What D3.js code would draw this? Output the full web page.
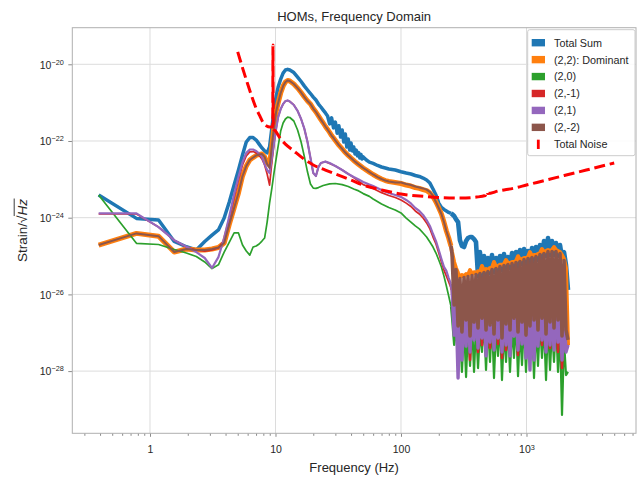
<!DOCTYPE html>
<html>
<head>
<meta charset="utf-8">
<script src="https://cdn.jsdelivr.net/npm/d3@7"></script>
<style>
body { margin: 0; background: #fff; }
text { font-family: "Liberation Sans", Arial, sans-serif; fill: #262626; }
</style>
</head>
<body>
<div id="chart"></div>
<script>
// ---- data (frequency in Hz, strain / sqrt(Hz)) ----

// smooth part of each mode, up to 250 Hz
var totalSum = [[0.39,3.9e-24],[0.78,9.6e-25],[1.17,8.7e-25],[1.56,2.4e-25],[1.95,1.75e-25],[2.34,1.44e-25],[2.73,2.4e-25],[3.12,3.5e-25],[3.51,4.8e-25],[3.9,9.8e-25],[4.29,2.6e-24],[4.68,7.1e-24],[5.07,1.75e-23],[5.46,4.3e-23],[5.85,9.4e-23],[6.24,1.23e-22],[6.63,1.23e-22],[7.02,1.06e-22],[7.41,8.3e-23],[7.8,6.6e-23],[8.19,5.5e-23],[8.58,4.9e-23],[8.97,7.0e-23],[9.36,2.18e-22],[9.75,6.4e-22],[10.14,1.49e-21],[10.5,2.56e-21],[11,4.1e-21],[11.5,5.9e-21],[12,7.1e-21],[12.5,7.4e-21],[13,7.1e-21],[14,6.1e-21],[15,4.65e-21],[16,3.55e-21],[17,2.7e-21],[18,2.14e-21],[19,1.73e-21],[20,1.4e-21],[21,1.17e-21],[22,9.2e-22],[23,7.7e-22],[24,6.4e-22],[25,5.4e-22],[26,4.5e-22],[27,2.8e-22],[28,4.0e-22],[29,2.2e-22],[30,3.1e-22],[31,1.6e-22],[32,2.5e-22],[33,1.27e-22],[34,1.94e-22],[35,9.4e-23],[36,1.52e-22],[37,7.0e-23],[38,1.13e-22],[39,5.8e-23],[40,8.9e-23],[41,5.5e-23],[42,7.0e-23],[43,4.6e-23],[44,5.8e-23],[45,4.1e-23],[46,5.0e-23],[47,3.6e-23],[48,4.45e-23],[49,3.4e-23],[50,3.85e-23],[53,3.2e-23],[56,2.8e-23],[60,2.6e-23],[65,2.3e-23],[70,2.1e-23],[75,1.98e-23],[80,1.86e-23],[85,1.8e-23],[90,1.75e-23],[100,1.58e-23],[110,1.46e-23],[120,1.38e-23],[130,1.26e-23],[140,1.19e-23],[150,1.08e-23],[160,9.6e-24],[170,8.0e-24],[180,5.6e-24],[190,3.9e-24],[200,2.4e-24],[210,1.85e-24],[220,1.64e-24],[230,1.5e-24],[240,1.37e-24],[250,1.29e-24]];

var mode22 = [[0.39,1.94e-25],[0.78,3.9e-25],[1.17,3.3e-25],[1.56,1.27e-25],[1.95,1.53e-25],[2.34,1.44e-25],[2.73,1.44e-25],[3.12,1.53e-25],[3.51,1.67e-25],[3.9,2.18e-25],[4.29,6.8e-25],[4.68,1.79e-24],[5.07,4.4e-24],[5.46,1.22e-23],[5.85,2.23e-23],[6.24,3.2e-23],[6.63,3.7e-23],[7.02,4.2e-23],[7.41,4.45e-23],[7.8,4.6e-23],[8.19,3.85e-23],[8.58,2.67e-23],[8.97,2.37e-23],[9.36,7.7e-23],[9.75,2.46e-22],[10.14,6.06e-22],[10.5,9.8e-22],[11,1.78e-21],[11.5,2.7e-21],[12,3.45e-21],[12.5,3.8e-21],[13,3.67e-21],[14,3.07e-21],[15,2.4e-21],[16,1.84e-21],[17,1.4e-21],[18,1.1e-21],[19,9.2e-22],[20,7.0e-22],[21,5.7e-22],[22,4.5e-22],[23,3.6e-22],[24,2.95e-22],[25,2.39e-22],[26,2.0e-22],[27,1.67e-22],[28,1.39e-22],[29,1.2e-22],[30,1.03e-22],[32,7.8e-23],[34,6.2e-23],[36,5.0e-23],[38,4.2e-23],[40,3.6e-23],[43,2.9e-23],[46,2.43e-23],[50,1.98e-23],[53,1.75e-23],[56,1.55e-23],[60,1.34e-23],[65,1.15e-23],[70,1.02e-23],[75,9.3e-24],[80,8.8e-24],[90,8.3e-24],[100,7.8e-24],[110,7.1e-24],[120,6.7e-24],[130,6.1e-24],[140,5.8e-24],[150,5.4e-24],[160,5.1e-24],[170,4.4e-24],[180,3.5e-24],[190,2.57e-24],[200,1.79e-24],[210,1.25e-24],[220,7.7e-25],[230,4.5e-25],[240,2.95e-25],[250,1.83e-25]];

var mode20 = [[0.39,3.9e-24],[0.78,2.15e-25],[1.17,2.0e-25],[1.56,1.48e-25],[1.95,1.2e-25],[2.34,9.7e-26],[2.73,7.0e-26],[3.12,4.7e-26],[3.51,5.9e-26],[3.9,1.27e-25],[4.29,2.32e-25],[4.68,4.0e-25],[5.07,4.0e-25],[5.46,1.94e-25],[5.85,1.35e-25],[6.24,1.06e-25],[6.63,1.72e-25],[7.02,1.83e-25],[7.41,2.06e-25],[7.8,2.46e-25],[8.19,2.95e-25],[8.58,7.7e-25],[8.97,2.4e-24],[9.36,5.9e-24],[9.75,1.55e-23],[10.14,3.6e-23],[10.5,7.4e-23],[11,1.82e-22],[11.5,2.95e-22],[12,3.75e-22],[12.5,4.2e-22],[13,4.1e-22],[14,3.32e-22],[15,1.94e-22],[16,9.4e-23],[17,3.85e-23],[18,1.55e-23],[19,7.6e-24],[20,5.9e-24],[21,5.8e-24],[22,6.1e-24],[24,6.9e-24],[27,7.6e-24],[30,7.8e-24],[34,7.3e-24],[38,6.5e-24],[42,5.6e-24],[46,5.0e-24],[50,4.25e-24],[56,3.6e-24],[60,3.07e-24],[70,2.28e-24],[80,1.85e-24],[90,1.59e-24],[100,1.33e-24],[110,9.8e-25],[120,7.7e-25],[130,6.1e-25],[140,5.1e-25],[150,4.0e-25],[160,3.13e-25],[170,2.32e-25],[180,1.72e-25],[190,1.2e-25],[200,7.9e-26],[210,5.2e-26],[220,3.0e-26],[230,1.65e-26],[240,9.1e-27],[250,4.95e-27]];

var mode2m1 = [[0.39,1.25e-24],[0.78,1.25e-24],[1.17,5.7e-25],[1.56,2.6e-25],[1.95,1.72e-25],[2.34,1.44e-25],[2.73,1.35e-25],[3.12,1.44e-25],[3.51,1.62e-25],[3.9,2.6e-25],[4.29,9.2e-25],[4.68,3.25e-24],[5.07,9.6e-24],[5.46,2.37e-23],[5.85,4.1e-23],[6.24,5.2e-23],[6.63,5.3e-23],[7.02,4.9e-23],[7.41,4.2e-23],[7.8,3.4e-23],[8.19,2.37e-23],[8.58,1.38e-23],[8.97,7.1e-24],[9.36,2.8e-23],[9.75,8.9e-23],[10.14,2.18e-22],[10.5,4.2e-22],[11,6.8e-22],[11.5,9.2e-22],[12,1.1e-21],[12.5,1.14e-21],[13,1.07e-21],[14,8.7e-22],[15,6.1e-22],[16,3.75e-22],[17,2.06e-22],[18,9.4e-23],[19,3.6e-23],[20,1.46e-23],[21,1.22e-23],[22,2.1e-23],[23,2.67e-23],[25,2.9e-23],[30,2.23e-23],[34,1.75e-23],[42,1.12e-23],[50,7.3e-24],[60,5.8e-24],[70,4.5e-24],[80,3.8e-24],[90,3.35e-24],[100,2.9e-24],[110,2.4e-24],[120,1.96e-24],[130,1.5e-24],[140,1.25e-24],[150,9.8e-25],[160,7.3e-25],[170,5.1e-25],[180,3.13e-25],[190,2.06e-25],[200,1.2e-25],[210,7.0e-26],[220,4.3e-26],[230,3.0e-26],[240,2.1e-26],[250,1.47e-26]];

var mode21 = [[0.39,1.3e-24],[0.78,1.3e-24],[1.17,5.7e-25],[1.56,2.6e-25],[1.95,1.75e-25],[2.34,1.27e-25],[2.73,8.9e-26],[3.12,4.9e-26],[3.51,9.4e-26],[3.9,2.95e-25],[4.29,1.11e-24],[4.68,4.1e-24],[5.07,1.15e-23],[5.46,2.8e-23],[5.85,4.9e-23],[6.24,6.0e-23],[6.63,6.0e-23],[7.02,5.5e-23],[7.41,4.7e-23],[7.8,3.85e-23],[8.19,2.5e-23],[8.58,1.75e-23],[8.97,1.46e-23],[9.36,3.6e-23],[9.75,9.4e-23],[10.14,2.18e-22],[10.5,4.2e-22],[11,6.8e-22],[11.5,9.2e-22],[12,1.1e-21],[12.5,1.14e-21],[13,1.07e-21],[14,8.7e-22],[15,6.1e-22],[16,3.75e-22],[17,2.06e-22],[18,9.4e-23],[19,3.6e-23],[20,1.46e-23],[21,1.22e-23],[22,2.1e-23],[23,2.67e-23],[24,2.8e-23],[25,2.9e-23],[27,2.67e-23],[30,2.23e-23],[34,1.75e-23],[38,1.38e-23],[42,1.15e-23],[46,9.9e-24],[50,8.5e-24],[56,7.3e-24],[60,6.7e-24],[70,5.3e-24],[80,4.4e-24],[90,3.9e-24],[100,3.5e-24],[110,2.9e-24],[120,2.35e-24],[130,1.79e-24],[140,1.5e-24],[150,1.18e-24],[160,8.7e-25],[170,6.1e-25],[180,3.75e-25],[190,2.46e-25],[200,1.44e-25],[210,8.4e-26],[220,5.2e-26],[230,4.1e-26],[240,2.67e-26],[250,1.87e-26]];

var mode2m2 = [[0.39,1.94e-25],[0.78,3.9e-25],[1.17,3.3e-25],[1.56,1.27e-25],[1.95,1.53e-25],[2.34,1.44e-25],[2.73,1.44e-25],[3.12,1.53e-25],[3.51,1.67e-25],[3.9,2.18e-25],[4.29,6.8e-25],[4.68,1.79e-24],[5.07,4.4e-24],[5.46,1.22e-23],[5.85,2.23e-23],[6.24,3.2e-23],[6.63,3.7e-23],[7.02,4.2e-23],[7.41,4.45e-23],[7.8,4.6e-23],[8.19,3.85e-23],[8.58,2.5e-23],[8.97,1.98e-23],[9.36,7.7e-23],[9.75,2.46e-22],[10.14,6.06e-22],[10.5,9.8e-22],[11,1.78e-21],[11.5,2.7e-21],[12,3.45e-21],[12.5,3.8e-21],[13,3.67e-21],[14,3.07e-21],[15,2.4e-21],[16,1.84e-21],[17,1.4e-21],[18,1.1e-21],[19,9.2e-22],[20,7.0e-22],[21,5.7e-22],[22,4.5e-22],[23,3.6e-22],[24,2.95e-22],[25,2.39e-22],[26,2.0e-22],[27,1.67e-22],[28,1.39e-22],[29,1.2e-22],[30,1.03e-22],[32,7.8e-23],[34,6.2e-23],[36,5.0e-23],[38,4.2e-23],[40,3.6e-23],[43,2.9e-23],[46,2.43e-23],[50,1.98e-23],[53,1.75e-23],[56,1.55e-23],[60,1.34e-23],[65,1.15e-23],[70,1.02e-23],[75,9.3e-24],[80,8.8e-24],[90,8.3e-24],[100,8.3e-24],[110,7.6e-24],[120,7.1e-24],[130,6.5e-24],[140,6.1e-24],[150,5.8e-24],[160,5.4e-24],[170,4.7e-24],[180,3.7e-24],[190,2.57e-24],[200,1.79e-24],[210,1.25e-24],[220,7.7e-25],[230,4.5e-25],[240,2.95e-25],[250,1.83e-25]];

// noisy band 255 Hz - 2.1 kHz, all modes sampled on the same frequencies
var hfFreqs = [255,265,274,285,295,306,318,330,342,355,368,382,396,411,426,442,459,476,493,512,531,551,572,593,615,638,662,687,712,739,767,795,825,856,888,921,956,991,1028,1066,1106,1148,1190,1235,1281,1329,1379,1431,1484,1540,1597,1657,1719,1783,1850,1919,1990,2064,2142];

var totalSumHF = [1.25e-24,1.11e-24,9.2e-25,7.7e-25,2.6e-25,1.83e-25,1.72e-25,2.46e-25,2.95e-25,3.13e-25,
  3.13e-25,2.77e-25,2.32e-25,3.0e-26,1.27e-25,3.0e-26,1.0e-25,3.4e-26,8.9e-26,3.6e-26,
  1.06e-25,3.8e-26,8.9e-26,4.1e-26,1.0e-25,4.3e-26,1.13e-25,4.6e-26,9.45e-26,4.9e-26,
  1.2e-25,5.2e-26,1.27e-25,5.5e-26,1.44e-25,6.2e-26,1.53e-25,6.6e-26,1.35e-25,7.0e-26,
  1.62e-25,7.4e-26,1.72e-25,7.9e-26,1.94e-25,8.9e-26,2.46e-25,1.0e-25,2.95e-25,1.06e-25,
  2.46e-25,1.06e-25,2.18e-25,1.0e-25,1.94e-25,8.9e-26,1.27e-25,5.9e-26,1.3e-26];

var mode22HF = [1.27e-25,7.0e-26,4.9e-26,3.6e-26,2.8e-26,3.2e-26,3.0e-26,3.4e-26,3.2e-26,4.3e-26,
  3.4e-26,3.8e-26,3.6e-26,4.0e-26,3.8e-26,5.5e-26,4.0e-26,4.6e-26,4.3e-26,4.9e-26,
  4.9e-26,7.0e-26,5.2e-26,5.5e-26,5.9e-26,5.9e-26,6.2e-26,7.9e-26,6.6e-26,6.6e-26,
  7.0e-26,7.0e-26,7.4e-26,9.9e-26,7.9e-26,8.4e-26,8.9e-26,8.9e-26,9.4e-26,1.27e-25,
  1.0e-25,1.06e-25,1.06e-25,1.13e-25,1.2e-25,1.53e-25,1.27e-25,1.35e-25,1.44e-25,1.35e-25,
  1.44e-25,1.72e-25,1.44e-25,1.35e-25,1.27e-25,1.06e-25,8.4e-26,4.9e-26,4.8e-28];

var mode20HF = [2.4e-27,4.8e-28,1.6e-27,1.44e-28,1.18e-27,9.5e-29,1.6e-27,7.0e-29,1.33e-27,1.36e-28,
  1.9e-27,9.5e-29,1.6e-27,1.2e-28,1.18e-27,3.15e-28,1.9e-27,1.07e-28,1.6e-27,1.73e-28,
  2.15e-27,6.6e-29,1.33e-27,2.5e-28,1.9e-27,5.85e-29,1.18e-27,1.73e-28,1.6e-27,9.5e-29,
  1.6e-27,2.2e-28,2.15e-27,7.4e-29,1.33e-27,1.44e-28,1.9e-27,9.5e-29,1.6e-27,1.95e-28,
  2.15e-27,6.6e-29,1.5e-27,1.36e-28,1.9e-27,2.2e-28,1.6e-27,5.85e-29,1.9e-27,1.07e-28,
  1.33e-27,1.73e-28,2.15e-27,9.5e-29,1.18e-27,7.2e-30,6.5e-28,7.9e-29,9.5e-29];

var mode2m1HF = [1.3e-26,1.18e-27,6.8e-27,1.95e-28,5.9e-27,3.15e-28,5.3e-27,5.7e-28,5.3e-27,1.95e-28,
  5.9e-27,8.7e-28,5.3e-27,3.15e-28,5.3e-27,4.8e-28,6.3e-27,3.15e-28,5.3e-27,4.0e-28,
  5.3e-27,4.5e-28,6.3e-27,5.1e-28,5.3e-27,2.2e-28,5.9e-27,3.55e-28,6.8e-27,3.15e-28,
  5.3e-27,1.05e-27,6.3e-27,2.65e-28,5.3e-27,6.5e-28,6.8e-27,3.15e-28,5.3e-27,1.95e-28,
  6.3e-27,3.15e-28,5.3e-27,6.5e-28,6.3e-27,4.8e-28,5.3e-27,3.55e-28,6.8e-27,4.0e-28,
  5.3e-27,4.8e-28,6.3e-27,3.15e-28,5.3e-27,1.2e-28,3.9e-27,3.55e-28,4.8e-28];

var mode21HF = [1.47e-26,8.7e-28,6.8e-27,6.6e-29,5.9e-27,1.95e-28,6.8e-27,4.5e-28,5.9e-27,3.15e-28,
  6.8e-27,6.5e-28,6.3e-27,4.0e-28,5.3e-27,7.3e-28,6.8e-27,2.5e-28,6.3e-27,5.7e-28,
  6.8e-27,3.55e-28,6.3e-27,7.3e-28,6.8e-27,3.15e-28,5.3e-27,4.8e-28,6.8e-27,2.5e-28,
  6.3e-27,8.2e-28,6.8e-27,3.55e-28,5.9e-27,5.1e-28,6.8e-27,2.2e-28,6.3e-27,1.07e-28,
  6.8e-27,1.95e-28,6.3e-27,4.5e-28,6.8e-27,6.5e-28,5.9e-27,3.15e-28,6.8e-27,4.8e-28,
  6.3e-27,3.55e-28,6.8e-27,5.7e-28,5.3e-27,1.95e-28,3.9e-27,3.15e-28,4.8e-28];

var mode2m2HF = [1.17e-25,5.3e-27,4.45e-26,1.5e-27,2.6e-26,1.05e-27,2.75e-26,2.15e-27,2.9e-26,8.2e-28,
  3.1e-26,1.9e-27,3.3e-26,1.33e-27,3.5e-26,2.4e-27,3.7e-26,1.18e-27,3.95e-26,1.6e-27,
  4.45e-26,9.3e-28,4.7e-26,2.15e-27,5.35e-26,7.3e-28,5.65e-26,1.69e-27,6.0e-26,1.18e-27,
  6.4e-26,2.4e-27,6.8e-26,1.05e-27,7.2e-26,1.9e-27,8.1e-26,8.7e-28,8.6e-26,1.5e-27,
  9.1e-26,2.15e-27,9.7e-26,1.18e-27,1.1e-25,2.4e-27,1.17e-25,9.3e-28,1.31e-25,1.9e-27,
  1.31e-25,1.33e-27,1.31e-25,2.15e-27,1.17e-25,8.2e-28,7.6e-26,1.18e-27,6.5e-28];

var totalNoise = [[5,2.1e-20],[5.5,7.5e-21],[6,3.07e-21],[6.5,1.4e-21],[7,7.25e-22],[7.5,4.5e-22],[8,2.95e-22],[8.5,2.46e-22],[9,2.32e-22],[9.5,2.32e-22],[9.55,3.2e-20],[9.6,2.1e-22],[10,1.82e-22],[11,1.13e-22],[12,8.3e-23],[14,5.5e-23],[16,3.85e-23],[20,2.37e-23],[25,1.75e-23],[30,1.38e-23],[40,9.6e-24],[50,7.1e-24],[70,5.3e-24],[100,4.15e-24],[150,3.6e-24],[200,3.35e-24],[300,3.25e-24],[400,3.45e-24],[470,3.8e-24],[485,4.8e-24],[490,4.25e-24],[600,5.0e-24],[800,5.9e-24],[1000,7.1e-24],[1500,9.9e-24],[2000,1.26e-23],[3000,1.75e-23],[4000,2.23e-23],[5000,2.67e-23]];

var legendLabels = ["Total Sum", "(2,2): Dominant", "(2,0)", "(2,-1)", "(2,1)", "(2,-2)", "Total Noise"];
var xTicks = [1, 10, 100, 1000];
var xTickBase = ["1", "10", "100", "10"];
var xTickExp = ["", "", "", "3"];
var yTicks = [1e-28, 1e-26, 1e-24, 1e-22, 1e-20];
var yTickExp = ["\u221228", "\u221226", "\u221224", "\u221222", "\u221220"];

// ---- layout ----
var canvas_width = 637, canvas_height = 481;
var margin = {top: 27.7, right: 1, bottom: 47.7, left: 72.3};
var width = canvas_width - margin.left - margin.right;
var height = canvas_height - margin.top - margin.bottom;

var spineColor = "#b0b0b0", gridColor = "#dcdcdc", tickColor = "#8a8a8a";

var svg = d3.select("#chart").append("svg")
    .attr("width", canvas_width)
    .attr("height", canvas_height);

var g = svg.append("g")
    .attr("transform", "translate(" + margin.left + "," + margin.top + ")");

var xScale = d3.scaleLog().domain([0.2404, 7458]).range([0, width]);
var yScale = d3.scaleLog().domain([2.39e-30, 9.0e-20]).range([height, 0]);

// grid
g.selectAll(".xgrid").data(xTicks).enter().append("line")
    .attr("x1", d => xScale(d)).attr("x2", d => xScale(d))
    .attr("y1", 0).attr("y2", height)
    .attr("stroke", gridColor).attr("stroke-width", 1);
g.selectAll(".ygrid").data(yTicks).enter().append("line")
    .attr("x1", 0).attr("x2", width)
    .attr("y1", d => yScale(d)).attr("y2", d => yScale(d))
    .attr("stroke", gridColor).attr("stroke-width", 1);

// axes
var minorTicks = xScale.ticks().filter(d => xTicks.indexOf(d) < 0);
var xMinor = g.append("g")
    .attr("transform", "translate(0," + height + ")")
    .call(d3.axisBottom(xScale).tickValues(minorTicks).tickSize(2.5).tickSizeOuter(0).tickFormat(""));
xMinor.select(".domain").remove();
xMinor.selectAll(".tick line").attr("stroke", tickColor);

var xAxis = g.append("g")
    .attr("transform", "translate(0," + height + ")")
    .attr("font-family", null).attr("font-size", null)
    .call(d3.axisBottom(xScale).tickValues(xTicks).tickSize(3.5).tickSizeOuter(0).tickFormat(""));
xAxis.select(".domain").remove();
xAxis.selectAll(".tick line").attr("stroke", tickColor);
xAxis.selectAll(".tick text").each(function (d, i) {
    var t = d3.select(this).attr("y", 20).attr("dy", null)
        .attr("fill", "#262626").style("font-size", "10.5px");
    t.append("tspan").text(xTickBase[i]);
    if (xTickExp[i]) t.append("tspan").attr("dy", "-0.5em").style("font-size", "7.3px").text(xTickExp[i]);
});

var yAxis = g.append("g")
    .attr("font-family", null).attr("font-size", null)
    .call(d3.axisLeft(yScale).tickValues(yTicks).tickSize(4).tickSizeOuter(0).tickFormat(""));
yAxis.select(".domain").remove();
yAxis.selectAll(".tick line").attr("stroke", tickColor);
yAxis.selectAll(".tick text").each(function (d, i) {
    var t = d3.select(this).attr("x", -8.5).attr("dy", "0.36em")
        .attr("fill", "#262626").style("font-size", "10.5px");
    t.append("tspan").text("10");
    t.append("tspan").attr("dy", "-0.55em").style("font-size", "7.3px").text(yTickExp[i]);
});

// frame
g.append("rect")
    .attr("x", 0).attr("y", 0).attr("width", width).attr("height", height)
    .attr("fill", "none").attr("stroke", spineColor).attr("stroke-width", 1);

// lines
g.append("clipPath").attr("id", "plot-clip")
    .append("rect").attr("width", width).attr("height", height);

var line = d3.line()
    .x(d => xScale(d[0]))
    .y(d => yScale(d[1]));

function bandPoints(smooth, band) {
    return [smooth[smooth.length - 1]].concat(hfFreqs.map((f, i) => [f, band[i]]));
}

// w: width of the smooth trace, wb: width in the dense noisy band (dense data reads as a filled area)
var series = [
    {key: "Total Sum", smooth: totalSum, band: totalSumHF, color: "#1f77b4", w: 3.5, wb: 4.6},
    {key: "(2,2): Dominant", smooth: mode22, band: mode22HF, color: "#ff7f0e", w: 5, wb: 4},
    {key: "(2,0)", smooth: mode20, band: mode20HF, color: "#2ca02c", w: 1.7, wb: 2.2},
    {key: "(2,-1)", smooth: mode2m1, band: mode2m1HF, color: "#d62728", w: 1.7, wb: 2.6},
    {key: "(2,1)", smooth: mode21, band: mode21HF, color: "#9467bd", w: 2.2, wb: 3.4},
    {key: "(2,-2)", smooth: mode2m2, band: mode2m2HF, color: "#8c564b", w: 2, wb: 3.6}
];

var plot = g.append("g").attr("clip-path", "url(#plot-clip)");

var modes = plot.selectAll(".mode")
    .data(series)
    .enter()
    .append("g")
    .attr("fill", "none")
    .attr("stroke", d => d.color)
    .attr("stroke-linejoin", "round");

modes.append("path")
    .attr("stroke-width", d => d.wb)
    .attr("d", d => line(bandPoints(d.smooth, d.band)));

modes.append("path")
    .attr("stroke-width", d => d.w)
    .attr("d", d => line(d.smooth));

plot.append("path")
    .attr("fill", "none")
    .attr("stroke", "#ff0000")
    .attr("stroke-width", 3)
    .attr("stroke-dasharray", "11,4.8")
    .attr("d", d3.line().x(d => xScale(d[0])).y(d => yScale(d[1])).curve(d3.curveMonotoneX)(totalNoise));

// title and labels
svg.append("text")
    .attr("x", margin.left + width / 2).attr("y", 20.5)
    .attr("text-anchor", "middle")
    .style("font-size", "13px")
    .text("HOMs, Frequency Domain");

svg.append("text")
    .attr("x", margin.left + width / 2).attr("y", 471.5)
    .attr("text-anchor", "middle")
    .style("font-size", "13px")
    .text("Frequency (Hz)");

var ylab = svg.append("g").attr("transform", "translate(26.5," + (margin.top + height / 2) + ") rotate(-90)");
var ytext = ylab.append("text").attr("text-anchor", "middle").style("font-size", "13.5px");
ytext.append("tspan").text("Strain/");
ytext.append("tspan").text("\u221A");
ytext.append("tspan").style("font-style", "italic").text("Hz");
var yNode = ytext.node();
var nChars = yNode.getNumberOfChars();
var barStart = yNode.getEndPositionOfChar(7);
var barEnd = yNode.getEndPositionOfChar(nChars - 1);
ylab.append("line")
    .attr("x1", barStart.x - 0.5).attr("x2", barEnd.x + 0.5)
    .attr("y1", -12.3).attr("y2", -12.3)
    .attr("stroke", "#262626").attr("stroke-width", 0.9);

// legend
var legendColors = ["#1f77b4", "#ff7f0e", "#2ca02c", "#d62728", "#9467bd", "#8c564b", "#ff0000"];
var legend = svg.append("g").attr("transform", "translate(527.7,29.7)");
legend.append("rect")
    .attr("width", 107.3).attr("height", 126).attr("rx", 2)
    .attr("fill", "#fff").attr("fill-opacity", 0.85)
    .attr("stroke", "#cccccc").attr("stroke-width", 1);

var rows = legend.selectAll(".row")
    .data(legendLabels)
    .enter()
    .append("g")
    .attr("transform", (d, i) => "translate(0," + (13 + i * 16.93) + ")");

rows.append("rect")
    .attr("x", d => d === "Total Noise" ? 9.2 : 4)
    .attr("y", d => d === "Total Noise" ? -4.6 : -3.7)
    .attr("width", d => d === "Total Noise" ? 2.8 : 13.3)
    .attr("height", d => d === "Total Noise" ? 9.3 : 7.4)
    .attr("fill", (d, i) => legendColors[i]);

rows.append("text")
    .attr("x", 26.3).attr("dy", "0.36em")
    .style("font-size", "10.8px")
    .text(d => d);
</script>
</body>
</html>
